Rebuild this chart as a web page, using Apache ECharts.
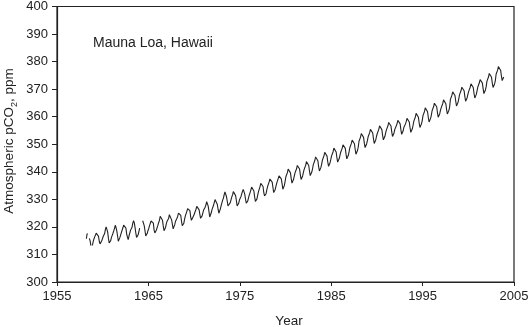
<!DOCTYPE html>
<html>
<head>
<meta charset="utf-8">
<style>
  html, body { margin: 0; padding: 0; background: #fff; }
  #chart { width: 532px; height: 327px; }
</style>
<script src="https://cdn.jsdelivr.net/npm/echarts@6/dist/echarts.min.js"></script>
</head>
<body>
<div id="chart"></div>
<script>
// Monthly mean CO2 at Mauna Loa (ppm), one row per year, Jan..Dec; null = no record
const FIRST_YEAR = 1958;
const co2Monthly = [
  [null, null, 315.71, 317.45, 317.50, null, 315.86, 314.93, 313.20, null, 313.33, 314.67],
  [315.62, 316.38, 316.71, 317.72, 318.29, 318.15, 316.54, 314.80, 313.84, 313.26, 314.80, 315.58],
  [316.43, 316.97, 317.58, 319.02, 320.03, 319.59, 318.18, 315.91, 314.16, 313.83, 315.00, 316.19],
  [316.93, 317.70, 318.54, 319.48, 320.58, 319.77, 318.57, 316.79, 314.80, 315.38, 316.10, 317.01],
  [317.94, 318.56, 319.68, 320.63, 321.01, 320.55, 319.58, 317.40, 316.26, 315.42, 316.69, 317.69],
  [318.74, 319.08, 319.86, 321.39, 322.25, 321.47, 319.74, 317.77, 316.21, 315.99, 317.12, 318.31],
  [319.57, null, null, null, 322.23, 321.89, 320.44, 318.70, 316.70, 316.87, 317.68, 318.71],
  [319.44, 320.44, 320.89, 322.13, 322.16, 321.87, 321.39, 318.81, 317.81, 317.30, 318.87, 319.42],
  [320.62, 321.59, 322.39, 323.87, 324.01, 323.75, 322.39, 320.37, 318.64, 318.10, 319.79, 321.08],
  [322.07, 322.50, 323.04, 324.42, 325.00, 324.09, 322.55, 320.92, 319.31, 319.31, 320.72, 321.96],
  [322.57, 323.15, 323.89, 325.02, 325.57, 325.36, 324.14, 322.03, 320.41, 320.25, 321.31, 322.84],
  [324.00, 324.42, 325.64, 326.66, 327.38, 326.70, 325.89, 323.67, 322.38, 321.78, 322.85, 324.11],
  [324.86, 325.55, 326.41, 327.47, 327.58, 327.27, 326.29, 324.66, 323.12, 323.09, 324.01, 325.10],
  [326.12, 326.62, 327.16, 327.94, 329.15, 328.79, 327.53, 325.65, 323.60, 323.78, 325.13, 326.26],
  [326.93, 327.84, 327.96, 329.93, 330.25, 329.24, 328.13, 326.42, 324.97, 325.29, 326.56, 327.73],
  [328.73, 329.70, 330.46, 331.70, 332.66, 332.22, 331.02, 329.39, 327.58, 327.27, 328.30, 328.81],
  [329.44, 330.89, 331.62, 332.85, 333.29, 332.44, 331.35, 329.58, 327.58, 327.55, 328.56, 329.73],
  [330.45, 330.98, 331.63, 332.88, 333.63, 333.53, 331.90, 330.08, 328.59, 328.31, 329.44, 330.64],
  [331.62, 332.45, 333.36, 334.46, 334.84, 334.29, 333.04, 330.88, 329.23, 328.83, 330.18, 331.50],
  [332.80, 333.22, 334.54, 335.82, 336.45, 335.97, 334.65, 332.40, 331.28, 330.73, 332.05, 333.54],
  [334.66, 335.07, 336.33, 337.39, 337.65, 337.57, 336.25, 334.39, 332.44, 332.25, 333.59, 334.76],
  [335.89, 336.44, 337.63, 338.54, 339.06, 338.95, 337.41, 335.71, 333.68, 333.69, 335.05, 336.53],
  [338.2, 338.9, 339.7, 341.0, 341.6, 341.1, 339.6, 337.5, 335.9, 335.8, 337.2, 338.4],
  [339.6, 340.3, 341.1, 342.3, 343.0, 342.4, 341.0, 338.9, 337.2, 337.2, 338.5, 339.8],
  [340.9, 341.6, 342.4, 343.7, 344.3, 343.8, 342.3, 340.2, 338.6, 338.5, 339.9, 341.1],
  [342.6, 343.3, 344.1, 345.4, 346.0, 345.5, 344.0, 341.9, 340.3, 340.2, 341.6, 342.8],
  [344.3, 345.0, 345.8, 347.1, 347.7, 347.2, 345.7, 343.6, 342.0, 341.9, 343.3, 344.5],
  [345.8, 346.5, 347.3, 348.6, 349.2, 348.7, 347.2, 345.1, 343.5, 343.4, 344.8, 346.0],
  [347.1, 347.8, 348.6, 349.8, 350.5, 349.9, 348.5, 346.4, 344.7, 344.7, 346.0, 347.3],
  [348.8, 349.5, 350.3, 351.5, 352.2, 351.6, 350.2, 348.1, 346.4, 346.4, 347.7, 349.0],
  [351.1, 351.8, 352.6, 353.9, 354.5, 354.0, 352.5, 350.4, 348.8, 348.7, 350.1, 351.3],
  [352.7, 353.4, 354.2, 355.4, 356.1, 355.5, 354.1, 352.0, 350.3, 350.3, 351.6, 352.9],
  [353.9, 354.6, 355.4, 356.7, 357.3, 356.8, 355.3, 353.2, 351.6, 351.5, 352.9, 354.1],
  [355.2, 355.9, 356.7, 357.9, 358.6, 358.0, 356.6, 354.5, 352.8, 352.8, 354.1, 355.4],
  [356.0, 356.7, 357.5, 358.7, 359.4, 358.8, 357.4, 355.3, 353.6, 353.6, 354.9, 356.2],
  [356.7, 357.4, 358.2, 359.4, 360.1, 359.5, 358.1, 356.0, 354.3, 354.3, 355.6, 356.9],
  [358.4, 359.1, 359.9, 361.2, 361.8, 361.3, 359.8, 357.7, 356.1, 356.0, 357.4, 358.6],
  [360.4, 361.1, 361.9, 363.2, 363.8, 363.3, 361.8, 359.7, 358.1, 358.0, 359.4, 360.6],
  [362.2, 362.9, 363.7, 364.9, 365.6, 365.0, 363.6, 361.5, 359.8, 359.8, 361.1, 362.4],
  [363.3, 364.0, 364.8, 366.1, 366.7, 366.2, 364.7, 362.6, 361.0, 360.9, 362.3, 363.5],
  [366.3, 367.0, 367.8, 369.0, 369.7, 369.1, 367.7, 365.6, 363.9, 363.9, 365.2, 366.5],
  [368.0, 368.7, 369.5, 370.7, 371.4, 370.8, 369.4, 367.3, 365.6, 365.6, 366.9, 368.2],
  [369.2, 369.9, 370.7, 371.9, 372.6, 372.0, 370.6, 368.5, 366.8, 366.8, 368.1, 369.4],
  [370.8, 371.5, 372.3, 373.5, 374.2, 373.6, 372.2, 370.1, 368.4, 368.4, 369.7, 371.0],
  [372.9, 373.6, 374.4, 375.7, 376.3, 375.8, 374.3, 372.2, 370.6, 370.5, 371.9, 373.1],
  [375.4, 376.1, 376.9, 378.2, 378.8, 378.3, 376.8, 374.7, 373.1, 373.0, 374.4]
];

// Axis ranges and ticks
const xRange = [1955, 2005];
const xStep = 10;
const yRange = [300, 400];
const yStep = 10;

const title = 'Mauna Loa, Hawaii';
const xTitle = 'Year';

// Flatten to [decimal year, ppm]; '-' breaks the line at missing months
const series = [];
co2Monthly.forEach((row, i) => {
  row.forEach((v, m) => {
    series.push([FIRST_YEAR + i + (m + 0.5) / 12, v == null ? '-' : v]);
  });
});

const ink = '#222';
const font = '"Liberation Sans", Arial, Helvetica, sans-serif';

const chart = echarts.init(document.getElementById('chart'), null, { renderer: 'canvas' });
chart.setOption({
  animation: false,
  backgroundColor: '#fff',
  grid: {
    left: 57, right: 18, top: 6, bottom: 45,
    show: true, borderColor: ink, borderWidth: 1.2, backgroundColor: 'transparent'
  },
  xAxis: {
    type: 'value',
    min: xRange[0], max: xRange[1], interval: xStep,
    axisLine: { lineStyle: { color: ink, width: 1.2 } },
    axisTick: { show: true, length: 4, inside: false, lineStyle: { color: ink, width: 1 } },
    axisLabel: { color: ink, fontFamily: font, fontSize: 13, margin: 8, formatter: v => String(v) },
    splitLine: { show: false }
  },
  yAxis: {
    type: 'value',
    min: yRange[0], max: yRange[1], interval: yStep,
    axisLine: { show: true, lineStyle: { color: ink, width: 1.2 } },
    axisTick: { show: true, length: 5, inside: false, lineStyle: { color: ink, width: 1 } },
    axisLabel: { color: ink, fontFamily: font, fontSize: 13, margin: 9, formatter: v => String(v) },
    splitLine: { show: false }
  },
  graphic: [
    {
      type: 'text', left: 93, top: 36,
      style: { text: title, fill: ink, font: '14px ' + font }
    },
    {
      type: 'text', x: 289, y: 321,
      style: { text: xTitle, fill: ink, font: '13.5px ' + font, align: 'center', verticalAlign: 'middle' }
    },
    {
      type: 'text', x: 9, y: 141, rotation: Math.PI / 2,
      style: {
        text: '{n|Atmospheric pCO}{s|2}{n|, ppm}',
        align: 'center', verticalAlign: 'middle',
        rich: {
          n: { fill: ink, fontFamily: font, fontSize: 13.5, verticalAlign: 'bottom', lineHeight: 15 },
          s: { fill: ink, fontFamily: font, fontSize: 9, verticalAlign: 'bottom', lineHeight: 10, padding: [0, 0, -3, 0] }
        }
      }
    }
  ],
  series: [{
    type: 'line',
    data: series,
    showSymbol: false,
    connectNulls: false,
    lineStyle: { color: ink, width: 1.1 },
    silent: true
  }]
});
</script>
</body>
</html>
